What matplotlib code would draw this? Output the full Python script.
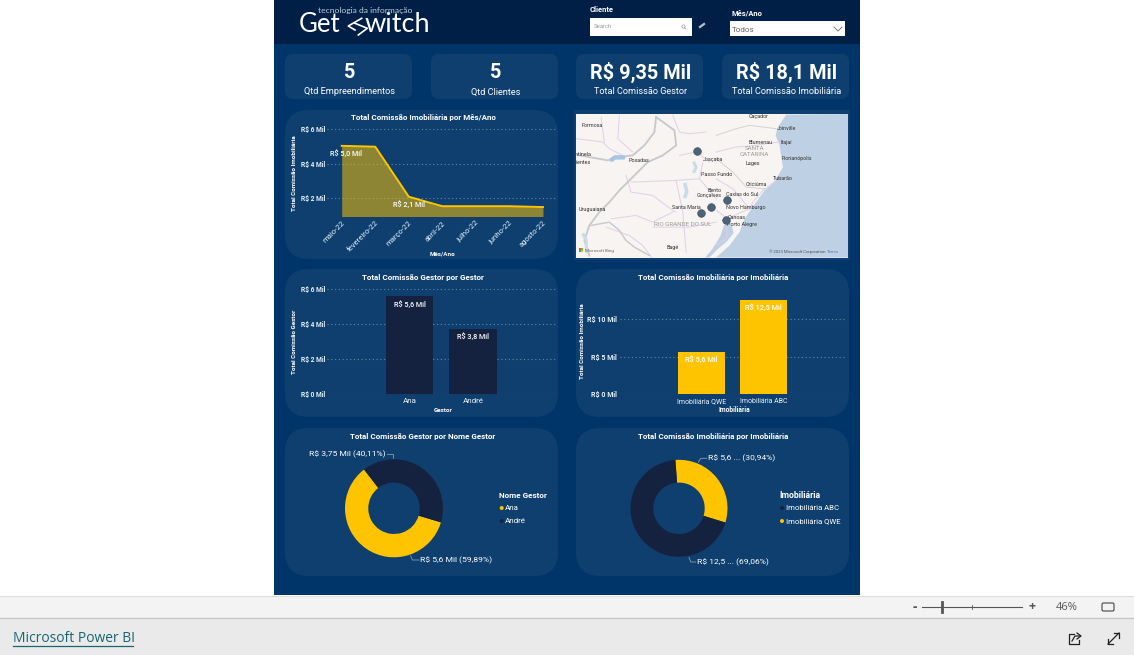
import matplotlib
matplotlib.use("Agg")
import matplotlib.pyplot as plt
from matplotlib.patches import FancyBboxPatch, Rectangle, Polygon, Circle

W, H = 1134, 655
FONT = "Roboto"
plt.rcParams["font.family"] = [FONT, "DejaVu Sans"]

# ---------- data ----------
months = ["maio-22", "fevereiro-22", "março-22", "abril-22", "julho-22", "junho-22", "agosto-22"]
month_values = [5.05, 5.0, 2.1, 1.55, 1.55, 1.55, 1.5]
month_ticks = [2, 4, 6]
month_tick_labels = ["R$ 2 Mil", "R$ 4 Mil", "R$ 6 Mil"]

gestores = ["Ana", "André"]
gestor_values = [5.6, 3.75]
gestor_labels = ["R$ 5,6 Mil", "R$ 3,8 Mil"]
gestor_ticks = [0, 2, 4, 6]
gestor_tick_labels = ["R$ 0 Mil", "R$ 2 Mil", "R$ 4 Mil", "R$ 6 Mil"]

imobs = ["Imobiliária QWE", "Imobiliária ABC"]
imob_values = [5.6, 12.5]
imob_labels = ["R$ 5,6 Mil", "R$ 12,5 Mil"]
imob_ticks = [0, 5, 10]
imob_tick_labels = ["R$ 0 Mil", "R$ 5 Mil", "R$ 10 Mil"]

donut1_names = ["Ana", "André"]
donut1_values = [5.6, 3.75]
donut2_names = ["Imobiliária QWE", "Imobiliária ABC"]
donut2_values = [5.6, 12.5]

kpi_values = ["5", "5", "R$ 9,35 Mil", "R$ 18,1 Mil"]
kpi_names = ["Qtd Empreendimentos", "Qtd Clientes", "Total Comissão Gestor", "Total Comissão Imobiliária"]

city_pts_x = [381, 422, 393, 471, 468]
city_pts_y = [128, 296, 314, 275, 337]
map_labels = [("Caçador", 565, 24), ("Joinville", 648, 60), ("Itajaí", 648, 102), ("Blumenau", 570, 102),
              ("Florianópolis", 678, 152), ("Lages", 547, 165), ("Joaçaba", 430, 155), ("Posadas", 207, 158),
              ("Passo Fundo", 440, 198), ("Tubarão", 637, 212), ("Criciúma", 557, 228), ("Bento", 432, 246),
              ("Gonçalves", 418, 261), ("Caxias do Sul", 515, 260), ("Novo Hamburgo", 527, 299),
              ("Santa Maria", 348, 299), ("Canoas", 498, 328), ("Porto Alegre", 515, 348),
              ("Uruguaiana", 68, 305), ("Bagé", 308, 418), ("entinela", 36, 140), ("rrientes", 36, 162),
              ("Formosa", 65, 53)]

PAGE = "#00356a"
HEADER = "#001f47"
PANEL = "#0e3f6e"
YELLOW = "#ffc400"
DARK = "#15223f"
TXT = "#ffffff"
TICK = "#e6f2fb"
GRID = "#5f8bad"

fig = plt.figure(figsize=(W / 100, H / 100), dpi=100, facecolor="white")
bg = fig.add_axes([0, 0, 1, 1])
bg.set_xlim(0, W)
bg.set_ylim(H, 0)
bg.axis("off")


def T(x, y, s, size=5.5, color=TXT, ha="left", va="center", weight="normal", **kw):
    return bg.text(x, y, s, fontsize=size, color=color, ha=ha, va=va, fontweight=weight, **kw)


def R(x0, y0, x1, y1, color, z=1, **kw):
    bg.add_patch(Rectangle((x0, y0), x1 - x0, y1 - y0, facecolor=color, edgecolor="none", zorder=z, **kw))


def panel(x0, y0, x1, y1, r=24, color=PANEL):
    bg.add_patch(FancyBboxPatch((x0 + r, y0 + r), x1 - x0 - 2 * r, y1 - y0 - 2 * r,
                                boxstyle=f"round,pad={r},rounding_size={r}",
                                facecolor=color, edgecolor="none", zorder=2))


def pix_axes(x0, y0, x1, y1):
    ax = fig.add_axes([x0 / W, 1 - y1 / H, (x1 - x0) / W, (y1 - y0) / H])
    ax.patch.set_alpha(0)
    for s in ax.spines.values():
        s.set_visible(False)
    return ax


# ---------- page ----------
R(274, 0, 860, 595, PAGE)
R(274, 0, 860, 44, HEADER)
R(0, 596, W, 618, "#f3f3f3")
R(0, 618, W, H, "#eaeaea")
bg.plot([0, W], [595.5, 595.5], color="#dddddd", lw=0.8, zorder=3)
bg.plot([0, W], [618, 618], color="#c8c8c8", lw=1, zorder=3)

# logo
T(299, 32.5, "Get", size=18.5, family="Lato", va="baseline", zorder=5)
T(365, 32.5, "witch", size=19.5, family="Lato", va="baseline", zorder=5)
T(318, 10, "tecnologia da informação", size=6.1, color="#c4ccd8", family="Lato", zorder=5)
bg.plot([361.7, 348.3, 355], [18.3, 26, 30], color="white", lw=1.2, zorder=5)
bg.plot([355, 367.3, 358.3], [23.3, 28.3, 35], color="white", lw=1.2, zorder=5)

# slicers
T(590, 10, "Cliente", size=5.4, weight="bold", zorder=5)
R(590, 18, 692, 36, "white", z=4)
T(594, 27, "Search", size=4.3, color="#999999", zorder=5)
bg.add_patch(Circle((683.5, 26.5), 1.6, fill=False, edgecolor="#999999", lw=0.5, zorder=5))
bg.plot([684.7, 686], [27.7, 29], color="#999999", lw=0.5, zorder=5)
bg.plot([700, 704], [27, 24], color="#b8c2d0", lw=1.6, zorder=5)
T(731, 14, "Mês/Ano", size=5.4, weight="bold", zorder=5)
R(730, 21, 845, 36, "white", z=4)
T(732, 29.5, "Todos", size=5.8, color="#666666", zorder=5)
bg.plot([834, 838, 842], [27, 31, 27], color="#666666", lw=0.6, zorder=5)

# kpi cards
kpi_x = [(285, 412), (431, 558), (576, 703), (722, 849)]
for (a, b), v, n in zip(kpi_x, kpi_values, kpi_names):
    panel(a, 54, b, 99, r=8)
    T((a + b) / 2 + 1, 72.5, v, size=14.3, ha="center", weight="bold", zorder=5)
    T((a + b) / 2 + 1, 92, n, size=6.6, ha="center", zorder=5)

for a, b, c, d in [(285, 110, 558, 259), (285, 269, 558, 417), (576, 269, 849, 417),
                   (285, 428, 558, 576), (576, 428, 849, 576)]:
    panel(a, b, c, d)
R(574, 110, 850, 260, PANEL, z=2)

TITLE = dict(size=5.75, ha="center", weight="bold", zorder=5)
T(423.3, 117, "Total Comissão Imobiliária por Mês/Ano", **TITLE)
T(423.3, 277, "Total Comissão Gestor por Gestor", **TITLE)
T(712.7, 277, "Total Comissão Imobiliária por Imobiliária", **TITLE)
T(422.7, 436, "Total Comissão Gestor por Nome Gestor", **TITLE)
T(712.7, 436, "Total Comissão Imobiliária por Imobiliária", **TITLE)


def style(ax, ticks, labels, size=5.0, grid_pad=6):
    ax.set_yticks(ticks)
    ax.set_yticklabels(labels, fontsize=size, color=TICK, fontweight="bold")
    ax.tick_params(axis="y", length=0, pad=grid_pad)
    ax.tick_params(axis="x", length=0, labelsize=size, labelcolor=TICK)
    ax.grid(axis="y", color=GRID, lw=0.8, ls=(0, (1, 2.4)))
    ax.set_axisbelow(True)


# ---------- area chart ----------
ax = pix_axes(327, 125, 557, 215.7)
xs = list(range(len(months)))
ax.fill_between(xs, month_values, 0, color=YELLOW, alpha=0.53, lw=0)
ax.plot(xs, month_values, color=YELLOW, lw=1.4)
step = (543 - 341.7) / 6
ax.set_xlim((327 - 341.7) / step, (557 - 341.7) / step)
ax.set_ylim(1.0, 1.0 + (215.7 - 125) / 17.25)
style(ax, month_ticks, month_tick_labels, size=4.8, grid_pad=1)
ax.set_xticks(xs)
ax.set_xticklabels(months, rotation=45, ha="right", rotation_mode="anchor", fontsize=5.5)
ax.tick_params(axis="x", pad=3)
ax.annotate("R$ 5,0 Mil", (xs[0], month_values[0]), xytext=(3, -6), textcoords="offset points",
            ha="center", va="center", fontsize=5.2, color=TXT, fontweight="medium")
ax.annotate("R$ 2,1 Mil", (xs[2], month_values[2]), xytext=(0, -6), textcoords="offset points",
            ha="center", va="center", fontsize=5.2, color=TXT, fontweight="medium")
T(294, 173, "Total Comissão Imobiliária", size=4.5, rotation=90, ha="center", weight="bold", zorder=5)
T(443, 253.7, "Mês/Ano", size=4.5, ha="center", weight="bold", zorder=5)

# ---------- gestor bars ----------
ax = pix_axes(327, 285, 557, 394.3)
xs = list(range(len(gestores)))
ax.bar(xs, gestor_values, width=0.75, color=DARK)
step = 63.5
ax.set_xlim((327 - 409.5) / step, (557 - 409.5) / step)
ax.set_ylim(0, (394.3 - 285) / 17.5)
style(ax, gestor_ticks, gestor_tick_labels, size=4.8, grid_pad=1)
ax.set_xticks(xs)
ax.set_xticklabels(gestores, fontsize=5.8)
ax.tick_params(axis="x", pad=3)
for x, v, s in zip(xs, gestor_values, gestor_labels):
    ax.annotate(s, (x, v), xytext=(0, -6), textcoords="offset points", ha="center", va="center",
                fontsize=5.2, color=TXT, fontweight="medium")
T(294, 341.5, "Total Comissão Gestor", size=4.5, rotation=90, ha="center", weight="bold", zorder=5)
T(442.7, 410.7, "Gestor", size=4.5, ha="center", weight="bold", zorder=5)

# ---------- imobiliaria bars ----------
ax = pix_axes(620, 290, 845, 394.3)
xs = list(range(len(imobs)))
ax.bar(xs, imob_values, width=0.76, color=YELLOW)
step = 62.3
ax.set_xlim((620 - 701.4) / step, (845 - 701.4) / step)
ax.set_ylim(0, (394.3 - 290) / 7.56)
style(ax, imob_ticks, imob_tick_labels, size=5.0, grid_pad=2)
ax.set_xticks(xs)
ax.set_xticklabels(imobs, fontsize=5.0)
ax.tick_params(axis="x", pad=3)
for x, v, s in zip(xs, imob_values, imob_labels):
    ax.annotate(s, (x, v), xytext=(0, -6), textcoords="offset points", ha="center", va="center",
                fontsize=5.3, color=TXT, fontweight="medium")
T(583, 341, "Total Comissão Imobiliária", size=4.5, rotation=90, ha="center", weight="bold", zorder=5)
T(734, 410.5, "Imobiliária", size=4.8, ha="center", weight="bold", zorder=5)


# ---------- donuts ----------
def donut(cx, cy, r, inner, values, colors, start):
    ax = pix_axes(cx - r - 1, cy - r - 1, cx + r + 1, cy + r + 1)
    ax.pie(values, colors=colors, startangle=start, counterclock=False, radius=1,
           wedgeprops=dict(width=1 - inner / r, lw=0))
    lim = (r + 1) / r
    ax.set_xlim(-lim, lim)
    ax.set_ylim(-lim, lim)


donut(394, 508.3, 49, 25.7, donut1_values, [YELLOW, DARK], -16.7)
donut(679, 508.3, 48.5, 25.7, donut2_values, [YELLOW, DARK], 94.3)

LEAD = dict(color="#7f9db8", lw=0.6, zorder=5)
T(309, 453.7, "R$ 3,75 Mil (40,11%)", size=6.1, zorder=5)
bg.plot([387.3, 393, 393], [454, 454, 458.3], **LEAD)
T(420, 560.3, "R$ 5,6 Mil (59,89%)", size=6.1, zorder=5)
bg.plot([410.7, 412.3, 419], [555.7, 560, 560], **LEAD)
T(708, 458.3, "R$ 5,6 ... (30,94%)", size=6.1, zorder=5)
bg.plot([698.3, 700.7, 706.7], [462.3, 458.3, 458.3], **LEAD)
T(697, 562.3, "R$ 12,5 ... (69,06%)", size=6.1, zorder=5)
bg.plot([689, 690.7, 695.7], [557.3, 562, 562], **LEAD)

T(499, 496, "Nome Gestor", size=5.9, weight="bold", zorder=5)
T(779, 496, "Imobiliária", size=6.2, weight="bold", zorder=5)
for name, c, y in zip(donut1_names, [YELLOW, DARK], [508, 521]):
    bg.add_patch(Circle((501.7, y), 2, facecolor=c, edgecolor="none", zorder=5))
    T(505, y, name, size=5.8, zorder=5)
for name, c, y in zip(donut2_names[::-1], [DARK, YELLOW], [508, 521]):
    bg.add_patch(Circle((782, y), 2, facecolor=c, edgecolor="none", zorder=5))
    T(785.7, y, name, size=5.6, zorder=5)

# ---------- map ----------
m = pix_axes(576, 114, 848, 257.5)
m.set_xlim(18, 833)
m.set_ylim(448, 18)
m.set_xticks([])
m.set_yticks([])
m.patch.set_alpha(1)
m.patch.set_facecolor("#f7f4f1")
SEA = "#bdd0e4"
sea_x = [648, 623, 616, 628, 633, 638, 613, 583, 558, 523, 508, 478, 438, 833, 833]
sea_y = [20, 57, 82, 112, 147, 177, 222, 247, 282, 332, 372, 412, 448, 448, 18]
m.add_patch(Polygon(list(zip(sea_x, sea_y)), facecolor=SEA, edgecolor="none"))
lag_x = [462, 485, 490, 470, 440, 418, 405, 425, 450]
lag_y = [350, 352, 375, 400, 425, 448, 448, 425, 385]
m.add_patch(Polygon(list(zip(lag_x, lag_y)), facecolor=SEA, edgecolor="none"))

# lines traced in left-crop coordinates (offset 18, 12)
lilac_left = [
    ([0, 80, 100, 140], [80, 90, 110, 130]),
    ([75, 85], [15, 90]),
    ([130, 125, 170], [10, 80, 120]),
    ([150, 165, 230, 290, 300], [190, 240, 250, 295, 300]),
    ([165, 300, 370], [210, 205, 200]),
    ([105, 180, 230, 290], [320, 310, 330, 300]),
    ([300, 320, 330], [205, 300, 420]),
    ([90, 160, 200, 230], [345, 370, 400, 440]),
    ([310, 360, 400], [130, 120, 150]),
    ([290, 310, 340, 390], [10, 60, 65, 60]),
    ([380, 370, 420], [150, 200, 260]),
    ([230, 340, 420], [345, 345, 330]),
]
grey_left = [
    ([0, 40, 95, 125, 170, 205, 235, 240], [128, 135, 145, 135, 130, 100, 60, 15]),
    ([240, 295, 300, 260, 215, 175, 130, 100, 70, 40, 25, 40],
     [15, 55, 100, 130, 150, 190, 235, 270, 300, 340, 385, 430]),
    ([45, 100, 130, 150, 175, 220], [340, 330, 355, 385, 405, 430]),
]
# right-crop coordinates (offset 438, 12)
lilac_right = [
    ([0, 60, 120, 185], [120, 105, 100, 90]),
    ([0, 50, 100, 30], [200, 230, 290, 320]),
    ([100, 110, 140, 180], [290, 270, 235, 205]),
    ([0, 35, 30, 0], [295, 320, 380, 400]),
]
grey_right = [
    ([0, 60, 100, 180], [70, 50, 40, 50]),
    ([0, 50, 90, 145], [140, 180, 225, 230]),
]
for (lines, off, col, lw) in [(lilac_left, 18, "#e3cdec", 0.7), (lilac_right, 438, "#e3cdec", 0.7),
                              (grey_right, 438, "#cfcfcf", 0.6)]:
    for lx, ly in lines:
        m.plot([v + off for v in lx], [v + 12 for v in ly], color=col, lw=lw)
for i, (lx, ly) in enumerate(grey_left):
    m.plot([v + 18 for v in lx], [v + 12 for v in ly], color="#c6c9cc", lw=1.3 if i < 2 else 1.0)
m.plot([125, 135, 160], [155, 148, 148], color="#a9c6e0", lw=3.2, solid_capstyle="round")
m.plot([345, 350, 345], [230, 250, 265], color="#c9dcec", lw=2.6)
m.plot([372, 378, 372], [165, 178, 190], color="#c9dcec", lw=2.2)
m.plot([40, 48, 50], [380, 395, 430], color="#c9dcec", lw=2.2)

for s, x, y in map_labels:
    m.text(x, y, s, fontsize=3.9, color="#333333", ha="center", va="center", clip_on=True)
m.text(553, 120, "SANTA", fontsize=4.4, color="#9a9a9a", ha="center", va="center")
m.text(553, 140, "CATARINA", fontsize=4.4, color="#9a9a9a", ha="center", va="center")
m.text(338, 348, "RIO GRANDE DO SUL", fontsize=4.5, color="#9a9a9a", ha="center", va="center")
m.scatter(city_pts_x, city_pts_y, s=30, color="#4d6478", edgecolor="#3c4f62", lw=0.5, zorder=5)
for c, dx, dy in [("#f25022", 0, 0), ("#7fba00", 6, 0), ("#00a4ef", 0, 6), ("#ffb900", 6, 6)]:
    m.add_patch(Rectangle((27 + dx, 421 + dy), 5.5, 5.5, facecolor=c, edgecolor="none"))
m.text(44, 429, "Microsoft Bing", fontsize=3.2, color="#666666", va="center")
m.text(595, 431, "© 2023 Microsoft Corporation", fontsize=3.05, color="#555555", va="center")
m.text(771, 431, "Terms", fontsize=3.05, color="#5a78b0", va="center")

# ---------- footer ----------
GR = "#555555"
T(915, 607, "-", size=10, color=GR, ha="center", family="Open Sans", weight="bold", zorder=5)
bg.plot([922, 1022], [607, 607], color=GR, lw=0.8, zorder=5)
bg.plot([942, 942], [602, 612], color=GR, lw=2, zorder=5)
bg.plot([972, 972], [605, 609], color=GR, lw=0.6, zorder=5)
T(1032, 606.5, "+", size=9, color=GR, ha="center", family="Open Sans", weight="bold", zorder=5)
T(1067, 607, "46%", size=8, color=GR, ha="center", family="Open Sans", zorder=5)
bg.add_patch(FancyBboxPatch((1102, 603), 12, 8, boxstyle="round,pad=0,rounding_size=1.5", fill=False,
                            edgecolor="#444444", lw=0.8, zorder=5))
T(13, 639, "Microsoft Power BI", size=10, color="#17666f", family="Open Sans", weight="medium", zorder=5)
bg.plot([13, 133], [646, 646], color="#17666f", lw=0.9, zorder=5)
# share + expand icons
bg.plot([1074, 1069, 1069, 1079, 1079], [634, 634, 644, 644, 640], color="#222222", lw=0.9, zorder=5)
bg.plot([1072, 1075, 1080], [641, 636, 636], color="#222222", lw=0.9, zorder=5)
bg.plot([1077, 1081, 1077], [633, 636, 639], color="#222222", lw=0.9, zorder=5)
bg.plot([1108, 1119], [644, 633], color="#222222", lw=0.9, zorder=5)
bg.plot([1114, 1119, 1119], [633, 633, 638], color="#222222", lw=0.9, zorder=5)
bg.plot([1108, 1108, 1113], [639, 644, 644], color="#222222", lw=0.9, zorder=5)

fig.savefig("out.png", dpi=100, facecolor="white")
